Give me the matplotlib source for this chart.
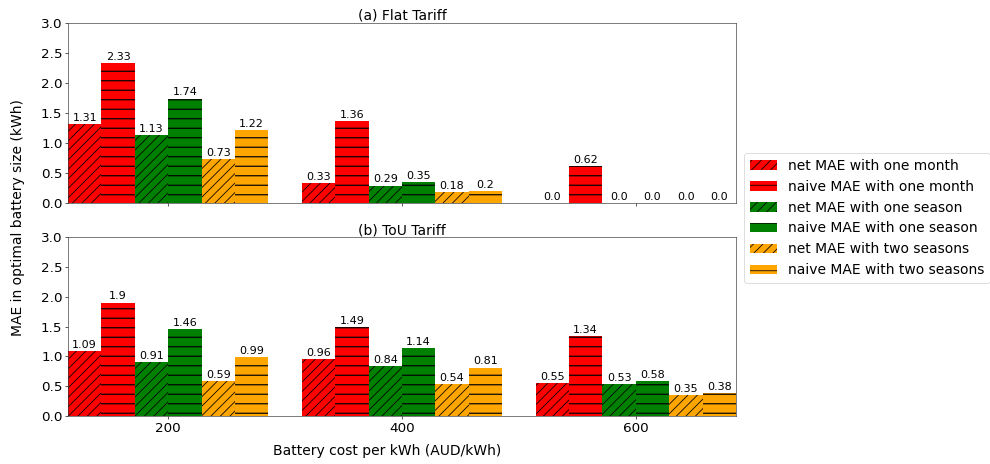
import numpy as np
import matplotlib
matplotlib.use("Agg")
import matplotlib.pyplot as plt

# Battery cost levels (AUD/kWh)
costs = ["200", "400", "600"]

series_labels = [
    "net MAE with one month",
    "naive MAE with one month",
    "net MAE with one season",
    "naive MAE with one season",
    "net MAE with two seasons",
    "naive MAE with two seasons",
]

# Flat tariff MAE (kWh)
flat_net_month = [1.31, 0.33, 0.0]
flat_naive_month = [2.33, 1.36, 0.62]
flat_net_season = [1.13, 0.29, 0.0]
flat_naive_season = [1.74, 0.35, 0.0]
flat_net_two = [0.73, 0.18, 0.0]
flat_naive_two = [1.22, 0.2, 0.0]

# Time-of-use tariff MAE (kWh)
tou_net_month = [1.09, 0.96, 0.55]
tou_naive_month = [1.9, 1.49, 1.34]
tou_net_season = [0.91, 0.84, 0.53]
tou_naive_season = [1.46, 1.14, 0.58]
tou_net_two = [0.59, 0.54, 0.35]
tou_naive_two = [0.99, 0.81, 0.38]

flat = [flat_net_month, flat_naive_month, flat_net_season,
        flat_naive_season, flat_net_two, flat_naive_two]
tou = [tou_net_month, tou_naive_month, tou_net_season,
       tou_naive_season, tou_net_two, tou_naive_two]

colors = ["red", "red", "green", "green", "orange", "orange"]
hatches = ["//", "-", "//", "-", "//", "-"]
hatch_widths = [1.0, 1.5, 1.0, 1.5, 1.0, 1.5]

DPI = 57
fig = plt.figure(figsize=(990 / DPI, 464 / DPI), dpi=DPI)
left, right = 68 / 990, 736 / 990
ax1 = fig.add_axes([left, 1 - 203 / 464, right - left, 180 / 464])
ax2 = fig.add_axes([left, 1 - 416 / 464, right - left, 179 / 464], sharex=ax1)

x = np.arange(len(costs))
w = 1 / 7

def draw(ax, data, title):
    handles = []
    for i, vals in enumerate(data):
        pos = x + (i - 2.5) * w
        with plt.rc_context({"hatch.linewidth": hatch_widths[i]}):
            bars = ax.bar(pos, vals, w, color=colors[i], hatch=hatches[i],
                          edgecolor="black", linewidth=0,
                          label=series_labels[i])
        handles.append(bars)
        for b, v in zip(bars, vals):
            ax.text(b.get_x() + b.get_width() / 2, v + 0.02, str(v),
                    ha="center", va="bottom", fontsize=14)
    ax.set_ylim(0, 3.0)
    ax.set_yticks(np.arange(0, 3.01, 0.5))
    ax.set_xlim(-3 * w, 2 + 3 * w)
    ax.set_title(title, fontsize=17.5, pad=3)
    ax.tick_params(labelsize=17)
    for s in ax.spines.values():
        s.set_edgecolor("#333333")
    return handles

handles = draw(ax1, flat, "(a) Flat Tariff")
draw(ax2, tou, "(b) ToU Tariff")
ax1.tick_params(labelbottom=False)
ax2.set_xticks(x)
ax2.set_xticklabels(costs)

fig.text(18 / 990, 1 - 218 / 464, "MAE in optimal battery size (kWh)",
         rotation=90, ha="center", va="center", fontsize=17.5)
fig.text(387 / 990, 1 - 451 / 464, "Battery cost per kWh (AUD/kWh)",
         ha="center", va="center", fontsize=17.5)

fig.legend(handles, series_labels, loc="center left",
           bbox_to_anchor=(744 / 990, 1 - 218 / 464), fontsize=17.5,
           frameon=True, borderaxespad=0)

fig.savefig("out.png", dpi=DPI)
